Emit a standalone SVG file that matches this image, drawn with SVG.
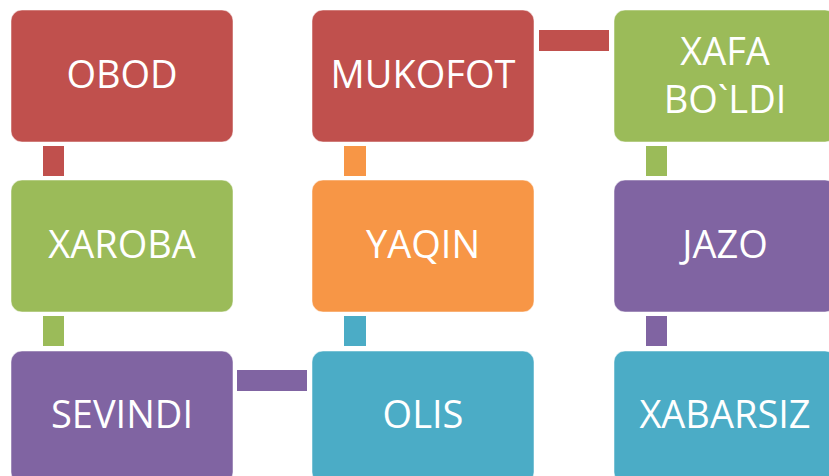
<svg xmlns="http://www.w3.org/2000/svg" width="829" height="476" viewBox="0 0 829 476">
<style>
.box{stroke:#ffffff;stroke-opacity:0.5;stroke-width:1}
.red{fill:#C0504D}.green{fill:#9BBB59}.orange{fill:#F79646}.purple{fill:#8064A2}.teal{fill:#4BACC6}
text{font-family:"Open Sans","Liberation Sans",sans-serif;font-size:38px;fill:#ffffff;text-anchor:middle}
</style>
<rect width="829" height="476" fill="#ffffff"/>
<g id="connectors">
<rect class="red" x="43" y="146" width="21" height="30"/>
<rect class="green" x="43" y="316" width="21" height="30"/>
<rect class="orange" x="344" y="146" width="22" height="30"/>
<rect class="teal" x="344" y="316" width="22" height="30"/>
<rect class="green" x="646" y="146" width="21" height="30"/>
<rect class="purple" x="646" y="316" width="21" height="30"/>
<rect class="red" x="539" y="30" width="70" height="21"/>
<rect class="purple" x="237" y="370" width="70" height="21"/>
</g>
<g id="obod"><rect class="box red" x="11" y="10" width="222" height="132" rx="11"/><text x="122" y="88">OBOD</text></g>
<g id="mukofot"><rect class="box red" x="312" y="10" width="222" height="132" rx="11"/><text x="423" y="88">MUKOFOT</text></g>
<g id="xafa"><rect class="box green" x="614" y="10" width="222" height="132" rx="11"/><text x="725" y="65">XAFA</text><text x="725" y="113">BO`LDI</text></g>
<g id="xaroba"><rect class="box green" x="11" y="180" width="222" height="132" rx="11"/><text x="122" y="258">XAROBA</text></g>
<g id="yaqin"><rect class="box orange" x="312" y="180" width="222" height="132" rx="11"/><text x="423" y="258">YAQIN</text></g>
<g id="jazo"><rect class="box purple" x="614" y="180" width="222" height="132" rx="11"/><text x="725" y="258">JAZO</text></g>
<g id="sevindi"><rect class="box purple" x="11" y="351" width="222" height="132" rx="11"/><text x="122" y="428">SEVINDI</text></g>
<g id="olis"><rect class="box teal" x="312" y="351" width="222" height="132" rx="11"/><text x="423" y="428">OLIS</text></g>
<g id="xabarsiz"><rect class="box teal" x="614" y="351" width="222" height="132" rx="11"/><text x="725" y="428">XABARSIZ</text></g>
</svg>
